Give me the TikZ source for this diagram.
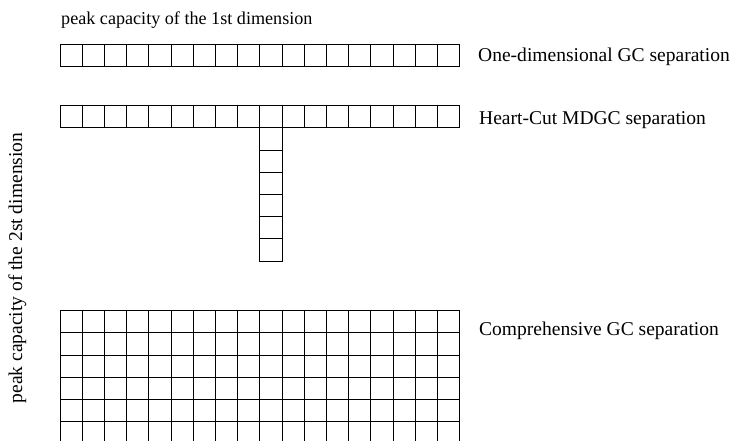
\documentclass[tikz,border=0pt]{standalone}
\usepackage{fontspec}
\setmainfont{Liberation Serif}
\begin{document}
\begin{tikzpicture}[x=1bp,y=-1bp, every node/.style={font=\fontsize{19.6}{22}\selectfont, inner sep=0pt}, cell/.style={draw, line width=0.8bp}]
\useasboundingbox (0,0) rectangle (730,441);
% one-dimensional row
\foreach \i in {0,...,17}
  \draw[cell] (60+22.2*\i,44) rectangle +(22.2,22.2);
% heart-cut row and column
\foreach \i in {0,...,17}
  \draw[cell] (60+22.2*\i,105.7) rectangle +(22.2,22.2);
\foreach \j in {1,...,6}
  \draw[cell] (259.8,105.7+22.2*\j) rectangle +(22.2,22.2);
% comprehensive grid, open at the bottom
\foreach \i in {0,...,18}
  \draw[cell] (60+22.2*\i,310.7) -- (60+22.2*\i,441);
\foreach \j in {0,...,5}
  \draw[cell] (60,310.7+22.2*\j) -- (459.6,310.7+22.2*\j);
% labels
\node[anchor=base west, font=\fontsize{18.2}{22}\selectfont] (first) at (61,25) {peak capacity of the 1st dimension};
\node[anchor=base west] (onedim) at (478,61.7) {One-dimensional GC separation};
\node[anchor=base west] (heartcut) at (479,125) {Heart-Cut MDGC separation};
\node[anchor=base west] (compr) at (479,336) {Comprehensive GC separation};
\node[anchor=base, rotate=90] (second) at (22,268) {peak capacity of the 2st dimension};
\end{tikzpicture}
\end{document}
